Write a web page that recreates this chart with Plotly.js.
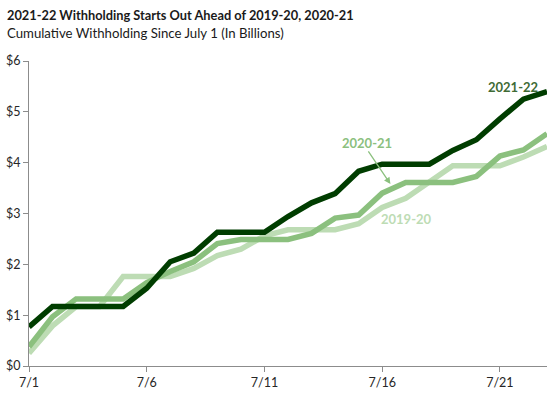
<!DOCTYPE html>
<html>
<head>
<meta charset="utf-8">
<script src="https://cdn.plot.ly/plotly-3.0.1.min.js"></script>
<style>html,body{margin:0;padding:0;background:#fff;}#chart{width:555px;height:397px;}</style>
</head>
<body>
<div id="chart"></div>
<script>
const days = [1,2,3,4,5,6,7,8,9,10,11,12,13,14,15,16,17,18,19,20,21,22,23];
const tickVals = [1,6,11,16,21];
const tickText = ["7/1","7/6","7/11","7/16","7/21"];
const fy2122 = [0.77,1.17,1.17,1.17,1.17,1.53,2.05,2.22,2.63,2.63,2.63,2.94,3.21,3.39,3.83,3.97,3.97,3.97,4.24,4.45,4.86,5.25,5.40];
const fy2021 = [0.38,0.97,1.32,1.32,1.32,1.64,1.86,2.05,2.41,2.49,2.49,2.49,2.61,2.91,2.97,3.40,3.61,3.61,3.61,3.73,4.13,4.25,4.57];
const fy1920 = [0.25,0.79,1.17,1.17,1.76,1.76,1.76,1.92,2.17,2.30,2.56,2.68,2.68,2.68,2.80,3.12,3.30,3.61,3.94,3.94,3.94,4.11,4.32];
const yTickVals = [0,1,2,3,4,5,6];
const yTickText = ["$0","$1","$2","$3","$4","$5","$6"];

const cDark = "#003d00", cMid = "#8bc07e", cLight = "#bddcb4";
const font = "Lato, 'Open Sans', sans-serif";

const traces = [
  {x: days, y: fy1920, name: "2019-20", mode: "lines", line: {color: cLight, width: 5.5}},
  {x: days, y: fy2021, name: "2020-21", mode: "lines", line: {color: cMid, width: 5.5}},
  {x: days, y: fy2122, name: "2021-22", mode: "lines", line: {color: cDark, width: 5.5}}
];

const layout = {
  width: 555, height: 397,
  margin: {l: 29, r: 8, t: 61, b: 31},
  paper_bgcolor: "#fff", plot_bgcolor: "#fff",
  showlegend: false,
  font: {family: font, size: 12, color: "#262626"},
  xaxis: {
    range: [1, 23], tickvals: tickVals, ticktext: tickText,
    showgrid: false, zeroline: false, showline: true, linecolor: "#8c8c8c", linewidth: 1,
    ticks: "outside", ticklen: 5, tickcolor: "#8c8c8c",
    tickfont: {family: font, size: 12.5, color: "#262626"}
  },
  yaxis: {
    range: [0, 6], tickvals: yTickVals, ticktext: yTickText,
    showgrid: false, zeroline: false, showline: true, linecolor: "#8c8c8c", linewidth: 1,
    ticks: "outside", ticklen: 5, tickcolor: "#8c8c8c",
    tickfont: {family: font, size: 12.5, color: "#262626"}
  },
  annotations: [
    {xref: "paper", yref: "paper", x: -0.046, y: 1.151, xanchor: "left", yanchor: "middle",
     text: "<b>2021-22 Withholding Starts Out Ahead of 2019-20, 2020-21</b>", showarrow: false,
     font: {family: font, size: 12.8, color: "#1a1a1a"}},
    {xref: "paper", yref: "paper", x: -0.046, y: 1.092, xanchor: "left", yanchor: "middle",
     text: "Cumulative Withholding Since July 1 (In Billions)", showarrow: false,
     font: {family: font, size: 13.2, color: "#1a1a1a"}},
    {xref: "x", yref: "y", x: 21.55, y: 5.49, text: "<b>2021-22</b>", showarrow: false,
     font: {family: font, size: 13, color: "#3f6b35"}},
    {xref: "x", yref: "y", x: 17.03, y: 2.89, text: "<b>2019-20</b>", showarrow: false,
     font: {family: font, size: 13, color: cLight}},
    {xref: "x", yref: "y", x: 16.35, y: 3.58, ax: 15.37, ay: 4.25, axref: "x", ayref: "y",
     text: "", showarrow: true, arrowhead: 2, arrowsize: 1, arrowwidth: 1.3, arrowcolor: cMid, standoff: 0},
    {xref: "x", yref: "y", x: 15.37, y: 4.39, text: "<b>2020-21</b>", showarrow: false,
     font: {family: font, size: 13, color: cMid}}
  ]
};

Plotly.newPlot("chart", traces, layout, {displayModeBar: false, staticPlot: true});
</script>
</body>
</html>
